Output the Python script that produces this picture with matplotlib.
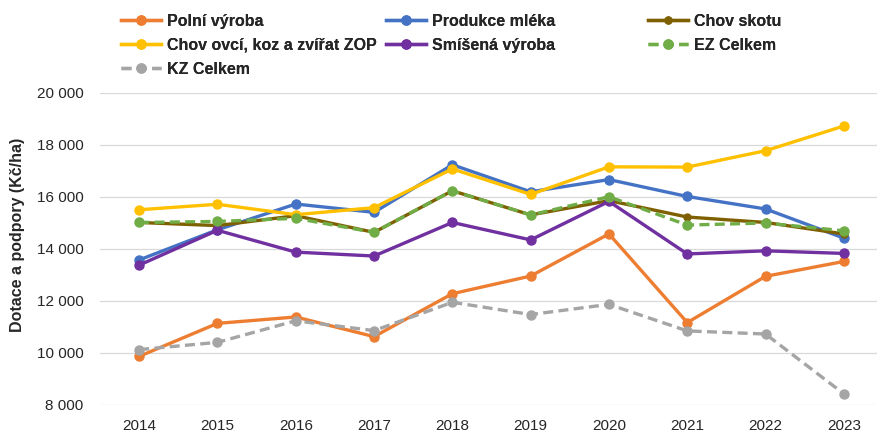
import matplotlib.pyplot as plt
from matplotlib.ticker import FuncFormatter

plt.rcParams['font.family'] = ['Liberation Sans', 'DejaVu Sans']

years = [2014, 2015, 2016, 2017, 2018, 2019, 2020, 2021, 2022, 2023]

polni = [9870, 11140, 11385, 10630, 12280, 12960, 14580, 11170, 12950, 13520]
mleko = [13580, 14740, 15730, 15410, 17240, 16200, 16670, 16020, 15540, 14420]
skot = [15020, 14900, 15280, 14640, 16240, 15310, 15860, 15230, 15020, 14580]
ovce = [15510, 15720, 15320, 15590, 17080, 16100, 17160, 17150, 17780, 18730]
smisena = [13380, 14720, 13880, 13730, 15020, 14350, 15830, 13810, 13930, 13830]
ez = [15020, 15060, 15180, 14640, 16240, 15310, 16010, 14920, 15000, 14700]
kz = [10130, 10410, 11240, 10860, 11950, 11480, 11870, 10850, 10730, 8430]

# label, values, colour, linestyle, marker size
series = [
    ('Polní výroba', polni, '#ED7D31', '-', 6.5),
    ('Produkce mléka', mleko, '#4472C4', '-', 6.5),
    ('Chov skotu', skot, '#7F6000', '-', 5),
    ('Chov ovcí, koz a zvířat ZOP', ovce, '#FFC000', '-', 6.5),
    ('Smíšená výroba', smisena, '#7030A0', '-', 6.5),
    ('EZ Celkem', ez, '#70AD47', '--', 6.5),
    ('KZ Celkem', kz, '#A5A5A5', '--', 6.5),
]

fig = plt.figure(figsize=(8.77, 4.33), dpi=100)
W, H = 877, 433
ax = fig.add_axes([100 / W, (H - 405) / H, (883 - 100) / W, 312 / H])

x = list(range(len(years)))
handles = {}
for label, vals, color, ls, ms in series:
    line, = ax.plot(x, vals, color=color, linestyle=ls, linewidth=2.4,
                    marker='o', markersize=ms, label=label,
                    dashes=(3, 1.6) if ls == '--' else (None, None))
    handles[label] = line

ax.set_xlim(-0.5, len(years) - 0.5)
ax.set_ylim(8000, 20000)
ax.set_yticks(range(8000, 20001, 2000))
ax.yaxis.set_major_formatter(FuncFormatter(lambda v, p: f'{v:,.0f}'.replace(',', ' ')))
ax.set_xticks(x)
ax.set_xticklabels([str(y) for y in years])
ax.tick_params(length=0, labelsize=11, labelcolor='#262626')
ax.tick_params(axis='y', pad=12)
ax.tick_params(axis='x', pad=10)
ax.grid(axis='y', color='#D9D9D9', linewidth=0.9)
ax.set_axisbelow(True)
for s in ax.spines.values():
    s.set_visible(False)

fig.text(18 / W, (H - 235) / H, 'Dotace a podpory (Kč/ha)', rotation=90,
         fontsize=11.5, fontweight='bold', ha='center', va='center', color='#262626')

# legend: three columns placed like in the source chart
cols = [
    (121, ['Polní výroba', 'Chov ovcí, koz a zvířat ZOP', 'KZ Celkem']),
    (386, ['Produkce mléka', 'Smíšená výroba']),
    (648, ['Chov skotu', 'EZ Celkem']),
]
for xpos, labels in cols:
    leg = fig.legend([handles[l] for l in labels], labels, loc='upper left',
                     bbox_to_anchor=(xpos / W, (H - 14) / H), frameon=False,
                     borderpad=0, borderaxespad=0, handlelength=2.5,
                     handletextpad=0.35, labelspacing=0.55,
                     prop={'weight': 'bold', 'size': 11.5})
    for t in leg.get_texts():
        t.set_color('#262626')
    fig.add_artist(leg)

fig.savefig('out.png', dpi=100)
